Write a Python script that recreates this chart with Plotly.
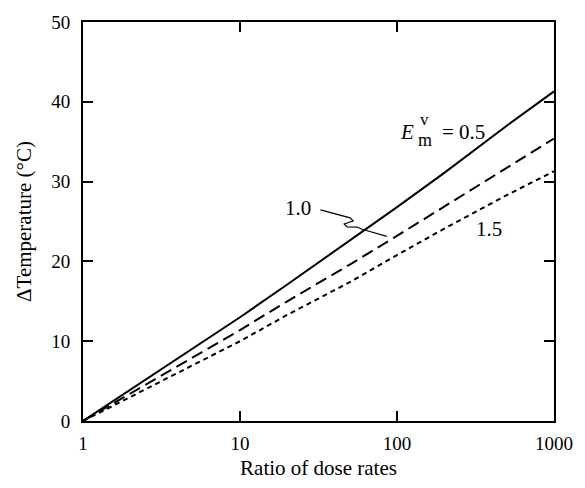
import plotly.graph_objects as go

# Ratio of dose rates and the temperature shift for three activation energies
dose_ratio = [1, 2, 5, 10, 20, 50, 100, 200, 500, 1000]
dt_e05 = [0, 3.9, 9.1, 13.0, 17.1, 22.6, 26.8, 31.1, 37.0, 41.3]
dt_e10 = [0, 3.4, 7.9, 11.4, 15.0, 19.6, 23.2, 26.9, 31.8, 35.4]
dt_e15 = [0, 3.0, 7.0, 10.0, 13.3, 17.4, 20.8, 24.1, 28.3, 31.3]

x_ticks = [1, 10, 100, 1000]
x_tick_text = ["1", "10", "100", "1000"]
y_ticks = [0, 10, 20, 30, 40, 50]

FONT = "Liberation Serif"

fig = go.Figure()
fig.add_trace(go.Scatter(x=dose_ratio, y=dt_e05, mode="lines",
                         line=dict(color="black", width=2)))
fig.add_trace(go.Scatter(x=dose_ratio, y=dt_e10, mode="lines",
                         line=dict(color="black", width=2, dash="12px,6px")))
fig.add_trace(go.Scatter(x=dose_ratio, y=dt_e15, mode="lines",
                         line=dict(color="black", width=2, dash="5px,4px")))

axis_common = dict(showline=True, linecolor="black", linewidth=2,
                   mirror="ticks", ticks="inside", ticklen=10, tickwidth=2,
                   tickcolor="black", showgrid=False, zeroline=False,
                   tickfont=dict(family=FONT, size=19, color="black"),
                   title_font=dict(family=FONT, size=21, color="black"))

fig.update_xaxes(type="log", range=[0, 3], tickvals=x_ticks,
                 ticktext=x_tick_text, title_text="Ratio of dose rates",
                 ticklabelstandoff=4, title_standoff=8, **axis_common)
fig.update_yaxes(range=[0, 50], tickvals=y_ticks,
                 title_text="ΔTemperature (°C)", ticklabelstandoff=7,
                 title_standoff=14, **axis_common)


def px(xp, yp):
    # convert pixel position inside the plot frame to paper fractions
    return (xp - 83) / 476, (422 - yp) / 410


def label(text, xp, yp, size=21, anchor="center"):
    x, y = px(xp, yp)
    fig.add_annotation(x=x, y=y, xref="paper", yref="paper", text=text,
                       showarrow=False, xanchor=anchor, yanchor="middle",
                       font=dict(family=FONT, size=size, color="black"))


# E_m^v = 0.5 built from pieces so the sub/superscript stack
label("<i>E</i>", 410, 125)
label("m", 429, 133, size=18)
label("v", 428, 112, size=17)
label("= 0.5", 444, 125, anchor="left")
label("1.0", 300, 203)
label("1.5", 493, 225)

leader = [(323, 205), (353, 213.3), (356, 216.5), (347, 219.5),
          (350, 222.5), (360, 222.7), (365, 225), (390, 232.3)]
pts = [px(a, b) for a, b in leader]
path = "M {:.4f},{:.4f} ".format(*pts[0]) + " ".join(
    "L {:.4f},{:.4f}".format(*p) for p in pts[1:])
fig.add_shape(type="path", path=path, xref="paper", yref="paper",
              line=dict(color="black", width=1.2))

fig.update_layout(width=585, height=488, showlegend=False,
                  plot_bgcolor="white", paper_bgcolor="white",
                  font=dict(family=FONT, color="black"),
                  margin=dict(l=83, r=26, t=12, b=66))

fig.write_html("out.html")
